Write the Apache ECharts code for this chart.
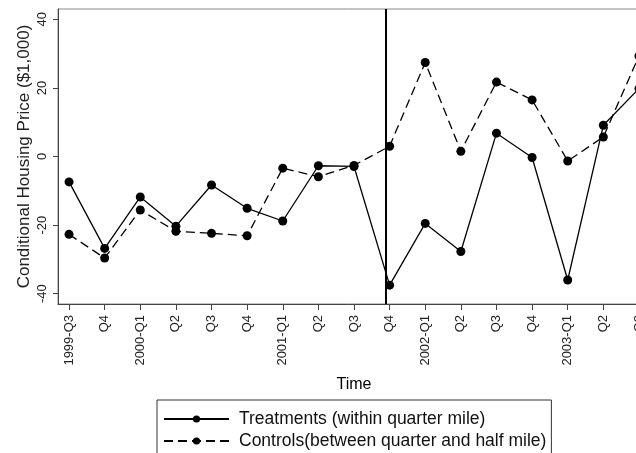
<!DOCTYPE html>
<html>
<head>
<meta charset="utf-8">
<script src="https://cdn.jsdelivr.net/npm/echarts@6/dist/echarts.min.js"></script>
<style>
  html, body { margin: 0; padding: 0; background: #fff; }
  #chart { width: 636px; height: 453px; }
</style>
</head>
<body>
<div id="chart"></div>
<script>
// quarters on the x axis
let quarters = ['1999-Q3', 'Q4', '2000-Q1', 'Q2', 'Q3', 'Q4', '2001-Q1', 'Q2', 'Q3',
  'Q4', '2002-Q1', 'Q2', 'Q3', 'Q4', '2003-Q1', 'Q2', 'Q3'];
// $1,000
let treatments = [-7.4, -26.8, -11.8, -20.3, -8.3, -15.1, -18.8, -2.7, -2.9,
  -37.5, -19.5, -27.7, 6.8, -0.3, -36.0, 9.1, 19.8];
let controls = [-22.7, -29.6, -15.6, -21.8, -22.4, -23.1, -3.4, -5.9, -2.6,
  3.0, 27.4, 1.5, 21.7, 16.5, -1.3, 5.7, 29.3];
let yTicks = [-40, -20, 0, 20, 40];
let eventLine = 8.89; // vertical line just before 2001-Q4

let font = "'Liberation Sans', Arial, sans-serif";
let chart = echarts.init(document.getElementById('chart'), null, { renderer: 'canvas' });

function pairs(arr) {
  return arr.map((v, i) => [i, v]);
}

let option = {
  animation: false,
  backgroundColor: '#fff',
  grid: {
    left: 58,
    top: 9,
    right: -14,
    bottom: 149,
    outerBoundsMode: 'none',
    containLabel: false,
    show: true,
    borderColor: '#888',
    borderWidth: 1
  },
  xAxis: {
    type: 'value',
    min: -0.31,
    max: 16.31,
    name: 'Time',
    nameLocation: 'middle',
    nameGap: 81,
    nameMoveOverlap: false,
    nameTextStyle: { fontFamily: font, fontSize: 16, color: '#000', verticalAlign: 'middle' },
    axisLine: { show: true, onZero: false, lineStyle: { color: '#444', width: 1 } },
    axisTick: { show: true, length: 6, customValues: quarters.map((q, i) => i), lineStyle: { color: '#444' } },
    axisLabel: {
      customValues: quarters.map((q, i) => i),
      rotate: 90,
      margin: 11,
      fontFamily: font,
      fontSize: 13,
      color: '#222',
      formatter: v => quarters[Math.round(v)]
    },
    splitLine: { show: false }
  },
  yAxis: {
    type: 'value',
    min: -43,
    max: 43,
    name: 'Conditional Housing Price ($1,000)',
    nameLocation: 'middle',
    nameRotate: 90,
    nameGap: 25,
    nameMoveOverlap: false,
    nameTextStyle: { fontFamily: font, fontSize: 17, color: '#222' },
    axisLine: { show: true, onZero: false, lineStyle: { color: '#444', width: 1 } },
    axisTick: { show: true, length: 5, customValues: yTicks, lineStyle: { color: '#444' } },
    axisLabel: {
      customValues: yTicks,
      rotate: 90,
      margin: 9,
      fontFamily: font,
      fontSize: 13,
      color: '#222'
    },
    splitLine: { show: false }
  },
  legend: {
    orient: 'vertical',
    left: 157,
    top: 400,
    height: 90,
    data: ['Treatments (within quarter mile)', 'Controls(between quarter and half mile)'],
    itemWidth: 65,
    itemHeight: 9,
    itemGap: 4,
    padding: [10, 5, 20, 6],
    borderColor: '#333',
    borderWidth: 1,
    textStyle: { fontFamily: font, fontSize: 17.5, color: '#111', padding: [0, 0, 0, 5] }
  },
  series: [
    {
      name: 'Treatments (within quarter mile)',
      type: 'line',
      data: pairs(treatments),
      symbol: 'circle',
      symbolSize: 9,
      color: '#000',
      lineStyle: { color: '#000', width: 1.3, type: 'solid' },
      itemStyle: { color: '#000' },
      markLine: {
        silent: true,
        symbol: ['none', 'none'],
        label: { show: false },
        lineStyle: { color: '#000', width: 2, type: 'solid' },
        data: [{ xAxis: eventLine }]
      },
      z: 3
    },
    {
      name: 'Controls(between quarter and half mile)',
      type: 'line',
      data: pairs(controls),
      symbol: 'circle',
      symbolSize: 9,
      color: '#000',
      lineStyle: { color: '#000', width: 1.3, type: [9, 5] },
      itemStyle: { color: '#000' },
      z: 2
    }
  ]
};

chart.setOption(option);
</script>
</body>
</html>
